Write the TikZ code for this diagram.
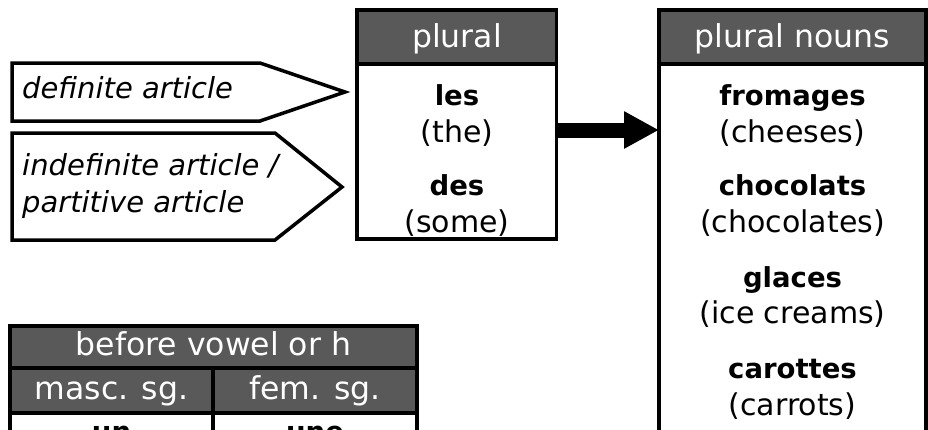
\documentclass[tikz,border=0pt]{standalone}
\usepackage{fontspec}
\setmainfont{DejaVu Sans}
\usetikzlibrary{arrows.meta}
\definecolor{hdr}{HTML}{595959}
\begin{document}
\begin{tikzpicture}[x=1pt,y=-1pt,
  boxline/.style={draw=black, line width=3.5pt},
  hdrtext/.style={text=white, inner sep=0pt, anchor=base, font=\fontsize{31.5}{36}\selectfont},
  fr/.style={inner sep=0pt, anchor=base, font=\fontsize{27.5}{32}\selectfont\bfseries},
  en/.style={inner sep=0pt, anchor=base, font=\fontsize{30}{34}\selectfont},
  lbl/.style={inner sep=0pt, anchor=base west, font=\fontsize{29}{34}\selectfont\itshape}]
\useasboundingbox (0,0) rectangle (928,429);
\clip (0,0) rectangle (928,429);
% left arrow labels
\draw[boxline, line join=miter] (12,63) -- (260,63) -- (345,92) -- (260,121) -- (12,121) -- cycle;
\node[lbl] (defart) at (22,98) {definite article};
\draw[boxline, line join=miter] (12,133) -- (275,133) -- (342,187) -- (275,240) -- (12,240) -- cycle;
\node[lbl] (indef) at (22,175) {indefinite article /};
\node[lbl] (part) at (22,212) {partitive article};
% plural box
\node[draw=none, inner sep=0pt, minimum width=200pt, minimum height=229pt, anchor=north west] (plural) at (357,10) {};
\fill[hdr] (357,10) rectangle (556.5,64);
\draw[boxline] (357,10) rectangle (556.5,239);
\draw[boxline] (357,64) -- (556.5,64);
\node[hdrtext] (pluralh) at (457,47) {plural};
\node[fr] (les) at (457,105) {les};
\node[en] (the) at (457,142) {(the)};
\node[fr] (des) at (457,195) {des};
\node[en] (some) at (457,232) {(some)};
% plural nouns box
\node[draw=none, inner sep=0pt, minimum width=267pt, minimum height=450pt, anchor=north west] (nouns) at (659,10) {};
\fill[hdr] (659,10) rectangle (926,64);
\draw[boxline] (659,10) rectangle (926,470);
\draw[boxline] (659,64) -- (926,64);
\node[hdrtext] (nounsh) at (792.5,47) {plural nouns};
\node[fr] (fromages) at (792.5,105) {fromages};
\node[en] (cheeses) at (792.5,142) {(cheeses)};
\node[fr] (chocolats) at (792.5,195) {chocolats};
\node[en] (chocolates) at (792.5,232) {(chocolates)};
\node[fr] (glaces) at (792.5,287) {glaces};
\node[en] (icecreams) at (792.5,323) {(ice creams)};
\node[fr] (carottes) at (792.5,378) {carottes};
\node[en] (carrots) at (792.5,415) {(carrots)};
% big arrow
\draw[line width=15pt, -{Triangle[length=35pt,width=35pt]}] (plural.east |- 0,130) -- (nouns.west |- 0,130);
% bottom table
\fill[hdr] (10,326) rectangle (417,413);
\draw[boxline] (10,326) rectangle (417,470);
\draw[boxline] (10,368) -- (417,368);
\draw[boxline] (10,413) -- (417,413);
\draw[boxline] (213,368) -- (213,470);
\node[hdrtext] (before) at (213.5,355) {before vowel or h};
\node[hdrtext] (masc) at (111.5,399) {masc. sg.};
\node[hdrtext] (fem) at (315,399) {fem. sg.};
\node[fr] (un) at (111.5,441) {un};
\node[fr] (une) at (315,441) {une};
\end{tikzpicture}
\end{document}
